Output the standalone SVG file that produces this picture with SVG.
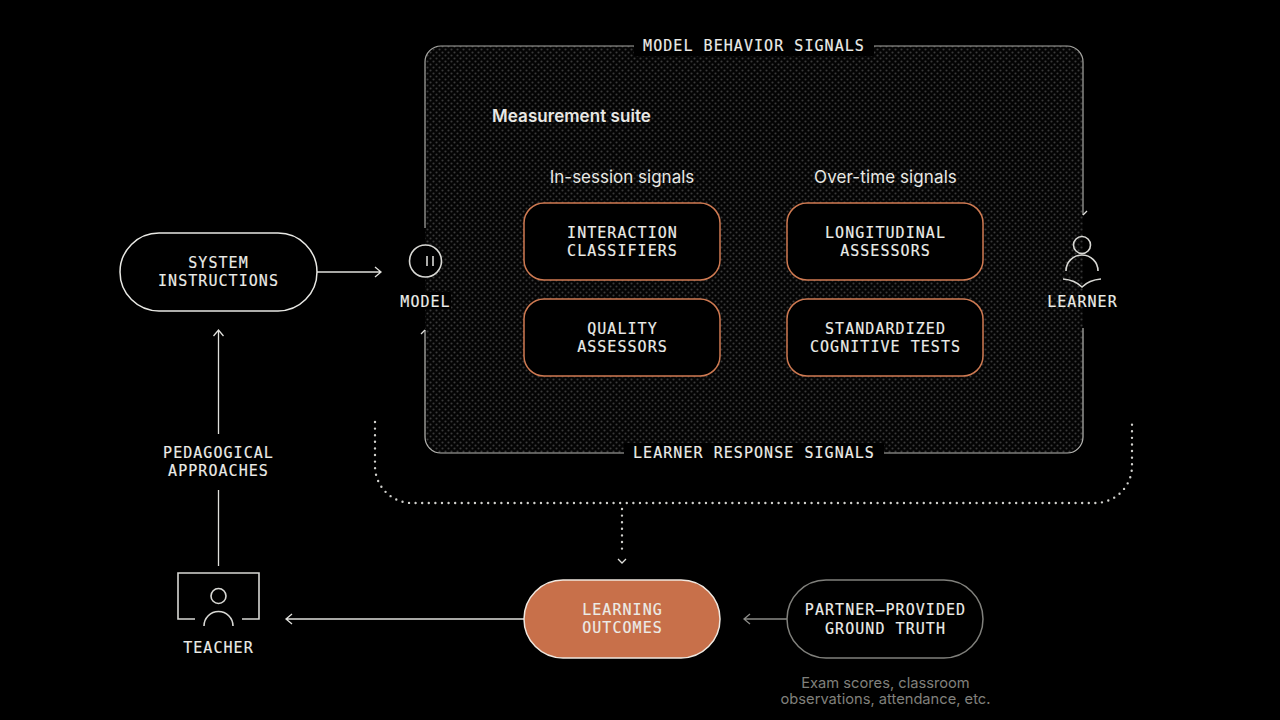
<svg xmlns="http://www.w3.org/2000/svg" width="1280" height="720" viewBox="0 0 1280 720">
<style>
.m{font-family:"DejaVu Sans Mono","Liberation Mono",monospace;font-size:15px;letter-spacing:1.05px;fill:#ecece8;stroke:#ecece8;stroke-width:.15px;text-anchor:middle}
.s{font-family:"Inter","Noto Sans",sans-serif;fill:#e8e8e4;text-anchor:middle}
.l{fill:none;stroke:#e0e0dc;stroke-width:1.3}
.ic{fill:none;stroke:#d8d8d4;stroke-width:1.6}
.o{fill:#000;stroke:#cf7a52;stroke-width:1.5}
.w{fill:#000;stroke:#e8e8e4;stroke-width:1.5}
.d{fill:none;stroke:#d0d0cc;stroke-width:2.4;stroke-dasharray:0 6.6;stroke-linecap:round}
.b{fill:#000}
</style>
<defs>
<pattern id="dots" width="6" height="6" patternUnits="userSpaceOnUse">
<rect width="6" height="6" fill="#040404"/><circle cx="1.500" cy="1.500" r="1.050" fill="#3a3a3a"/><circle cx="4.500" cy="4.500" r="1.050" fill="#3a3a3a"/>
</pattern>
</defs>
<rect width="1280" height="720" fill="#000"/>
<g id="panel">
<rect x="425" y="46" width="658" height="407" rx="16" fill="url(#dots)"/>
<path fill="none" stroke="#a8a8a4" stroke-width="1.200" d="M425 228V62a16 16 0 0 1 16-16H1067a16 16 0 0 1 16 16V215"/>
<path fill="none" stroke="#b8b8b4" stroke-width="1.200" d="M425 330V437a16 16 0 0 0 16 16H1067a16 16 0 0 0 16-16V328"/>
<rect class="b" x="634" y="36" width="240" height="20"/>
<rect class="b" x="624" y="443" width="260" height="20"/>
<text class="m" x="754" y="51">MODEL BEHAVIOR SIGNALS</text>
<text class="m" x="754" y="458">LEARNER RESPONSE SIGNALS</text>
<text class="s" x="571.500" y="122" font-size="17" font-weight="600" letter-spacing=".05">Measurement suite</text>
<text class="s" x="622" y="183" font-size="17">In-session signals</text>
<text class="s" x="885.500" y="183" font-size="17" letter-spacing=".1">Over-time signals</text>
</g>
<g id="connectors">
<path class="l" d="M317 272H381M375 267l6 5-6 5"/>
<path class="l" d="M218.500 434V330M213.500 336l5-6 5 6"/>
<path class="l" d="M218.500 566V490"/>
<path class="l" d="M524 619H286M292 614l-6 5 6 5"/>
<path class="l" style="stroke:#8a8a86" d="M787 619H744M750 614l-6 5 6 5"/>
<path class="l" d="M425 330l-4 4"/>
<path class="l" d="M1083 215l4-4"/>
<path class="d" d="M375 422V466a37 37 0 0 0 37 37H1095a37 37 0 0 0 37-37V422"/>
<path class="d" d="M622 509V553"/>
<path class="l" stroke-width="1.600" d="M618 559l4 4 4-4"/>
</g>
<g id="system-instructions">
<rect class="w" x="120" y="233" width="197" height="78" rx="39"/>
<text class="m" x="218.500" y="268">SYSTEM</text>
<text class="m" x="218.500" y="286">INSTRUCTIONS</text>
</g>
<g id="model">
<circle class="ic" cx="425.500" cy="261" r="16" style="fill:#000"/>
<path class="ic" stroke-width="1.300" d="M427 256v10M433 256v10"/>
<rect class="b" x="399" y="292" width="52" height="17"/>
<text class="m" x="425.500" y="306.500">MODEL</text>
</g>
<g id="learner">
<circle class="ic" cx="1082" cy="245" r="8.500"/>
<path class="ic" d="M1066 271a16 16 0 0 1 32 0"/>
<path class="ic" d="M1063 279q12 1 19 8q7-7 19-8"/>
<text class="m" x="1082.500" y="306.500">LEARNER</text>
</g>
<g id="teacher">
<path class="ic" d="M195 619H178V573H259V619H242"/>
<circle class="ic" cx="218.500" cy="596" r="7.500"/>
<path class="ic" d="M204 626a14.500 14.500 0 0 1 29 0"/>
<text class="m" x="218.500" y="652.500">TEACHER</text>
</g>
<g id="interaction-classifiers">
<rect class="o" x="524" y="203" width="196" height="77" rx="20"/>
<text class="m" x="622.500" y="237.500">INTERACTION</text>
<text class="m" x="622.500" y="255.500">CLASSIFIERS</text>
</g>
<g id="quality-assessors">
<rect class="o" x="524" y="299" width="196" height="77" rx="20"/>
<text class="m" x="622.500" y="333.500">QUALITY</text>
<text class="m" x="622.500" y="351.500">ASSESSORS</text>
</g>
<g id="longitudinal-assessors">
<rect class="o" x="787" y="203" width="196" height="77" rx="20"/>
<text class="m" x="885.500" y="237.500">LONGITUDINAL</text>
<text class="m" x="885.500" y="255.500">ASSESSORS</text>
</g>
<g id="standardized-tests">
<rect class="o" x="787" y="299" width="196" height="77" rx="20"/>
<text class="m" x="885.500" y="333.500">STANDARDIZED</text>
<text class="m" x="885.500" y="351.500">COGNITIVE TESTS</text>
</g>
<g id="pedagogical-approaches">
<text class="m" x="218.500" y="457.500">PEDAGOGICAL</text>
<text class="m" x="218.500" y="475.500">APPROACHES</text>
</g>
<g id="learning-outcomes">
<rect x="524" y="580" width="196" height="78" rx="39" fill="#c8704a" stroke="#f0e8e0" stroke-width="1.500"/>
<text class="m" x="622.500" y="615">LEARNING</text>
<text class="m" x="622.500" y="633">OUTCOMES</text>
</g>
<g id="partner-ground-truth">
<rect x="787" y="580" width="196" height="78" rx="39" fill="#000" stroke="#80807c" stroke-width="1.500"/>
<text class="m" x="885.500" y="615">PARTNER–PROVIDED</text>
<text class="m" x="885.500" y="633.500">GROUND TRUTH</text>
<text class="s" x="885.500" y="688" font-size="14.700" style="fill:#80807c">Exam scores, classroom</text>
<text class="s" x="885.500" y="704" font-size="14.700" style="fill:#80807c">observations, attendance, etc.</text>
</g>
</svg>
